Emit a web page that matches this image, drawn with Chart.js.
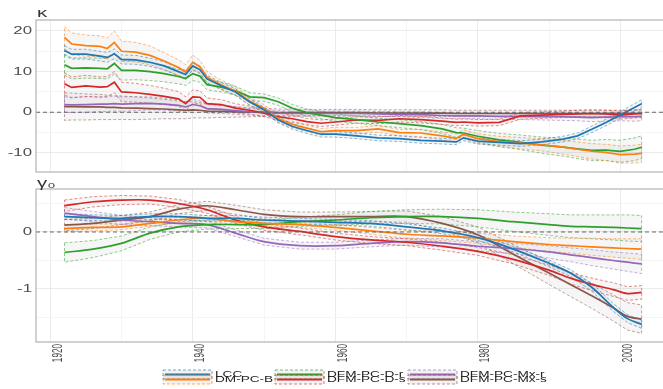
<!DOCTYPE html>
<html>
<head>
<meta charset="utf-8">
<script src="https://cdn.jsdelivr.net/npm/chart.js@4.4.0/dist/chart.umd.min.js"></script>
<style>
  html, body { margin: 0; padding: 0; background: #fff; overflow: hidden; }
  #wrap { position: relative; width: 663px; height: 389px; }
  canvas { position: absolute; left: 0; }
  #kappa { top: 0; }
  #gamma { top: 176px; }
</style>
</head>
<body>
<div id="wrap">
  <canvas id="kappa" width="663" height="176"></canvas>
  <canvas id="gamma" width="663" height="213"></canvas>
</div>
<script>
const seriesNames = ['LCC', 'DM-PC-B', 'DFM-PC-D-r', 'DFM-PC-D-s', 'DFM-PC-Mx-r', 'DFM-PC-Mx-s'];
const seriesColors = ['#1f77b4', '#ff7f0e', '#2ca02c', '#d62728', '#9467bd', '#8c564b'];

// kappa panel
const kappaYears = [1922,1923,1925,1927,1928,1929,1930,1932,1934,1936,1938,1939,1940,1941,1942,1944,1946,1948,1950,1952,1954,1956,1958,1960,1963,1966,1969,1972,1975,1977,1978,1980,1983,1986,1989,1992,1994,1996,1998,2000,2002,2003];
const kappaLCC  = [15.2,14.3,14.3,13.8,13.5,14.4,13.0,12.9,12.3,11.4,10.0,9.3,11.4,10.5,8.2,6.5,5.0,2.5,0.6,-1.9,-3.5,-4.5,-5.4,-5.4,-5.8,-6.3,-6.5,-6.9,-7.1,-7.3,-6.3,-7.1,-7.4,-7.7,-7.3,-6.6,-5.8,-4.2,-2.5,-0.7,1.2,2.1];
const kappaB    = [18.4,16.8,16.4,16.2,15.7,17.2,15.0,14.8,14.0,12.6,11.0,9.9,12.3,11.2,8.6,6.7,5.2,2.7,1.0,-1.6,-3.0,-3.9,-4.8,-4.5,-4.5,-4.1,-5.0,-5.1,-5.8,-6.4,-5.4,-6.5,-7.2,-7.6,-8.0,-8.6,-9.1,-9.6,-9.9,-10.4,-10.3,-10.1];
const kappaDr   = [11.7,10.8,10.9,10.8,10.7,12.0,10.3,10.3,10.0,9.5,8.8,8.3,9.5,8.9,6.8,6.2,5.3,3.8,3.6,2.6,1.0,-0.1,-0.7,-1.3,-1.8,-2.4,-2.8,-3.3,-4.1,-5.0,-5.1,-5.9,-6.8,-7.4,-8.1,-8.6,-9.0,-9.4,-9.3,-9.6,-9.1,-8.6];
const kappaDs   = [7.0,6.1,6.5,6.2,6.3,7.4,5.0,4.8,4.4,3.9,3.3,2.1,3.8,3.7,2.1,1.9,1.0,0.5,-0.2,-1.1,-1.6,-2.3,-2.7,-2.4,-1.9,-2.0,-1.6,-1.8,-2.2,-2.5,-2.4,-2.6,-2.5,-0.9,-0.7,-0.5,-0.4,-0.3,-0.4,-0.7,-0.4,-0.3];
const kappaMxr  = [1.9,1.8,1.9,2.0,2.0,2.1,2.0,2.1,2.2,2.0,1.7,1.3,1.9,1.6,0.9,0.7,0.4,0.1,-0.1,-0.2,-0.3,-0.3,-0.3,-0.3,-0.3,-0.4,-0.5,-0.6,-0.8,-0.9,-0.9,-0.9,-1.0,-1.0,-1.1,-1.1,-1.2,-1.3,-1.2,-1.1,-1.1,-1.0];
const kappaMxs  = [1.4,1.4,1.3,1.3,1.2,1.2,1.1,1.0,0.9,0.8,0.6,0.5,0.6,0.5,0.3,0.2,0.1,0.0,0.0,-0.1,-0.1,-0.1,-0.1,-0.1,-0.1,-0.2,-0.2,-0.2,-0.2,-0.3,-0.3,-0.3,-0.3,-0.3,-0.3,-0.3,-0.3,-0.3,-0.3,-0.3,-0.3,-0.3];
// half widths of the bands
const kappaLCCse = [1.2,1.2,1.2,1.2,1.2,1.2,1.1,1.1,1.0,1.0,1.0,1.0,1.0,0.9,0.9,0.8,0.8,0.8,0.7,0.7,0.7,0.7,0.7,0.7,0.7,0.7,0.7,0.7,0.7,0.7,0.7,0.7,0.7,0.7,0.7,0.7,0.7,0.8,0.8,0.8,0.9,1.0];
const kappaBse   = [2.7,2.7,2.6,2.6,2.6,2.8,2.5,2.4,2.3,2.1,1.9,1.8,1.8,1.6,1.4,1.2,1.1,1.0,0.9,0.9,0.8,0.8,0.8,0.8,0.8,0.8,0.8,0.9,1.0,1.1,1.1,1.2,1.3,1.4,1.5,1.7,1.8,1.9,2.0,2.1,2.2,2.2];
const kappaDrse  = [2.6,2.6,2.5,2.5,2.5,2.6,2.4,2.3,2.2,2.0,1.8,1.7,1.7,1.5,1.3,1.2,1.1,1.0,0.9,0.9,0.9,0.9,0.9,0.9,0.9,0.9,1.0,1.0,1.1,1.2,1.2,1.4,1.6,1.8,2.0,2.2,2.4,2.5,2.6,2.7,2.8,2.8];
const kappaDsse  = [2.7,2.6,2.6,2.5,2.5,2.6,2.4,2.3,2.2,2.0,1.8,1.7,1.7,1.6,1.4,1.2,1.1,1.0,0.9,0.9,0.9,0.8,0.8,0.8,0.8,0.8,0.8,0.8,0.8,0.8,0.8,0.8,0.8,0.8,0.8,0.8,0.9,0.9,0.9,1.0,1.0,1.0];
const kappaMxrse = [1.9,1.9,1.9,1.8,1.8,1.8,1.8,1.7,1.6,1.5,1.4,1.3,1.3,1.2,1.1,1.0,0.9,0.8,0.7,0.6,0.6,0.6,0.6,0.6,0.6,0.6,0.6,0.7,0.7,0.7,0.7,0.7,0.8,0.8,0.8,0.9,0.9,1.0,1.0,1.0,1.1,1.1];
const kappaMxsse = [3.4,3.3,3.2,3.1,3.0,3.0,2.9,2.8,2.6,2.4,2.2,2.1,2.0,1.9,1.7,1.5,1.3,1.1,1.0,0.9,0.9,0.8,0.8,0.8,0.8,0.8,0.8,0.8,0.8,0.8,0.8,0.8,0.8,0.8,0.8,0.8,0.8,0.8,0.8,0.8,0.8,0.8];

// gamma0 panel
const gammaYears = [1922,1926,1930,1934,1938,1942,1946,1950,1955,1960,1965,1970,1975,1980,1985,1990,1993,1996,1999,2001,2003];
const gammaLCC = [0.27,0.25,0.24,0.27,0.27,0.24,0.24,0.21,0.19,0.17,0.15,0.09,0.02,-0.10,-0.30,-0.55,-0.72,-0.97,-1.32,-1.52,-1.62];
const gammaB   = [0.06,0.08,0.09,0.15,0.21,0.24,0.18,0.15,0.13,0.08,0.02,-0.04,-0.07,-0.11,-0.17,-0.22,-0.24,-0.26,-0.28,-0.29,-0.30];
const gammaDr  = [-0.36,-0.30,-0.20,-0.02,0.09,0.13,0.13,0.13,0.18,0.21,0.25,0.27,0.27,0.24,0.18,0.13,0.10,0.09,0.08,0.07,0.06];
const gammaDs  = [0.46,0.53,0.56,0.56,0.50,0.39,0.21,0.09,0.01,-0.08,-0.14,-0.18,-0.25,-0.34,-0.48,-0.67,-0.81,-0.92,-1.01,-1.08,-1.06];
const gammaMxr = [0.33,0.27,0.21,0.18,0.15,0.13,-0.02,-0.17,-0.24,-0.24,-0.20,-0.17,-0.19,-0.25,-0.29,-0.35,-0.40,-0.45,-0.50,-0.53,-0.56];
const gammaMxs = [0.12,0.15,0.21,0.27,0.40,0.46,0.39,0.31,0.27,0.27,0.27,0.27,0.15,-0.05,-0.39,-0.72,-0.92,-1.12,-1.33,-1.48,-1.53];
const gammaLCCse = [0.05,0.05,0.05,0.05,0.05,0.05,0.05,0.05,0.05,0.05,0.05,0.05,0.05,0.05,0.05,0.06,0.06,0.07,0.07,0.07,0.07];
const gammaBse   = [0.06,0.06,0.05,0.05,0.05,0.05,0.05,0.05,0.05,0.05,0.06,0.07,0.08,0.09,0.10,0.12,0.13,0.15,0.16,0.17,0.18];
const gammaDrse  = [0.17,0.15,0.13,0.11,0.09,0.08,0.07,0.07,0.08,0.09,0.11,0.12,0.13,0.15,0.17,0.19,0.20,0.21,0.22,0.23,0.23];
const gammaDsse  = [0.10,0.09,0.08,0.07,0.07,0.06,0.06,0.06,0.06,0.06,0.06,0.06,0.07,0.07,0.08,0.09,0.10,0.11,0.12,0.12,0.12];
const gammaMxrse = [0.10,0.09,0.08,0.07,0.06,0.06,0.06,0.06,0.06,0.06,0.06,0.06,0.07,0.08,0.09,0.11,0.12,0.14,0.15,0.16,0.17];
const gammaMxsse = [0.10,0.09,0.08,0.08,0.08,0.08,0.08,0.08,0.08,0.08,0.09,0.10,0.12,0.14,0.17,0.20,0.21,0.22,0.23,0.24,0.25];

const xTickLabels = [1920, 1940, 1960, 1980, 2000];
const kappaTickLabels = [20, 10, 0, -10];
const gammaTickLabels = [0, -1];

const FONT = '"Liberation Sans", "DejaVu Sans", Arial, sans-serif';

function rgba(hex, a) {
    const n = parseInt(hex.slice(1), 16);
    return `rgba(${n >> 16},${(n >> 8) & 255},${n & 255},${a})`;
}

// closed outline: upper edge forward, lower edge back, then closed
function bandShape(years, mid, se) {
    const up = years.map((x, i) => ({ x, y: mid[i] + se[i] }));
    const lo = years.map((x, i) => ({ x, y: mid[i] - se[i] })).reverse();
    return up.concat(lo, [up[0]]);
}

function buildDatasets(years, mids, ses, tension) {
    const lines = mids.map((mid, k) => ({
        label: seriesNames[k],
        data: years.map((x, i) => ({ x, y: mid[i] })),
        borderColor: seriesColors[k],
        borderWidth: 1.7,
        pointRadius: 0,
        tension: tension,
        fill: false,
        order: 0
    }));
    const bands = mids.map((mid, k) => ({
        label: seriesNames[k] + ' band',
        data: bandShape(years, mid, ses[k]),
        borderColor: rgba(seriesColors[k], 0.6),
        borderWidth: 0.9,
        borderDash: [3, 2],
        backgroundColor: 'rgba(128,128,128,0.07)',
        fill: 'shape',
        pointRadius: 0,
        tension: 0,
        order: 1
    }));
    return lines.concat(bands);
}

function drawText(ctx, text, x, y, o) {
    ctx.save();
    ctx.translate(x, y);
    if (o.rotate) ctx.rotate(o.rotate);
    ctx.scale(o.sx || 1, o.sy || 1);
    ctx.font = o.font;
    ctx.fillStyle = o.color || '#4d4d4d';
    ctx.textAlign = o.align || 'left';
    ctx.textBaseline = o.baseline || 'alphabetic';
    ctx.fillText(text, 0, o.dy || 0);
    ctx.restore();
}

function makeScales(yMin, yMax, yStep, isMajorY, xHeight) {
    return {
        x: {
            type: 'linear', min: 1918, max: 2006,
            border: { display: false },
            ticks: { display: false, stepSize: 10, includeBounds: false },
            grid: {
                drawTicks: false, lineWidth: 1,
                color: c => (c.tick && c.tick.value % 20 === 0) ? '#ebebeb' : '#f5f5f5'
            },
            afterFit: s => { s.height = xHeight; }
        },
        y: {
            type: 'linear', min: yMin, max: yMax,
            border: { display: false },
            ticks: { display: false, stepSize: yStep, includeBounds: false },
            grid: {
                drawTicks: false, lineWidth: 1,
                color: c => (c.tick && isMajorY(c.tick.value)) ? '#ebebeb' : '#f5f5f5'
            },
            afterFit: s => { s.width = 36; }
        }
    };
}

function panelPlugin(yLabels, strip, stripY, extra) {
    return {
        id: 'panelDeco',
        afterDatasetsDraw(chart) {
            const { ctx, chartArea: a, scales } = chart;
            const y0 = scales.y.getPixelForValue(0);
            ctx.save();
            ctx.strokeStyle = '#666';
            ctx.lineWidth = 1;
            ctx.setLineDash([4, 3]);
            ctx.beginPath();
            ctx.moveTo(a.left, y0);
            ctx.lineTo(a.right, y0);
            ctx.stroke();
            ctx.restore();
        },
        afterDraw(chart) {
            const { ctx, chartArea: a, scales } = chart;
            ctx.save();
            ctx.strokeStyle = '#b3b3b3';
            ctx.lineWidth = 1.2;
            ctx.strokeRect(a.left, a.top, a.right - a.left + 2, a.bottom - a.top);
            ctx.restore();

            yLabels.forEach(v => {
                drawText(ctx, String(v), 32, scales.y.getPixelForValue(v), {
                    font: '10.5px ' + FONT, sx: 1.6, align: 'right', baseline: 'middle'
                });
            });
            drawText(ctx, strip, 37, stripY, { font: '12px ' + FONT, sx: 1.7, color: '#333' });
            if (extra) extra(chart);
        }
    };
}

function drawBottomExtras(chart) {
    const { ctx, scales, chartArea: a } = chart;
    // rotated year labels
    xTickLabels.forEach(v => {
        drawText(ctx, String(v), scales.x.getPixelForValue(v), a.bottom + 2, {
            font: '12px ' + FONT, rotate: -Math.PI / 2, sx: 0.68, sy: 1.22,
            align: 'right', baseline: 'alphabetic', dy: 9.4
        });
    });

    // legend: 3 columns, 2 rows, keys squeezed together
    const colX = [163, 275, 408];
    const rowY = [198.5, 203.5];
    seriesNames.forEach((name, i) => {
        const c = Math.floor(i / 2), r = i % 2;
        const x0 = colX[c], cy = rowY[r];
        ctx.save();
        ctx.fillStyle = 'rgba(128,128,128,0.10)';
        ctx.fillRect(x0, cy - 4.5, 49, 9);
        ctx.strokeStyle = rgba(seriesColors[i], 0.7);
        ctx.lineWidth = 0.9;
        ctx.setLineDash([3, 2]);
        ctx.strokeRect(x0, cy - 4.5, 49, 9);
        ctx.setLineDash([]);
        ctx.strokeStyle = seriesColors[i];
        ctx.lineWidth = 2;
        ctx.beginPath();
        ctx.moveTo(x0 + 2, cy);
        ctx.lineTo(x0 + 47, cy);
        ctx.stroke();
        ctx.restore();
        drawText(ctx, name, x0 + 52, cy + 0.5, {
            font: '8.5px ' + FONT, sx: 1.6, baseline: 'middle', color: '#222'
        });
    });
}

const commonOptions = {
    responsive: false,
    animation: false,
    events: [],
    plugins: { legend: { display: false }, tooltip: { enabled: false } }
};

new Chart(document.getElementById('kappa'), {
    type: 'line',
    data: {
        datasets: buildDatasets(kappaYears,
            [kappaLCC, kappaB, kappaDr, kappaDs, kappaMxr, kappaMxs],
            [kappaLCCse, kappaBse, kappaDrse, kappaDsse, kappaMxrse, kappaMxsse], 0)
    },
    options: {
        ...commonOptions,
        layout: { padding: { top: 20, left: 0, right: 0, bottom: 0 } },
        scales: makeScales(-14.7, 22.7, 5, v => v % 10 === 0, 4)
    },
    plugins: [panelPlugin(kappaTickLabels, 'κ', 17)]
});

new Chart(document.getElementById('gamma'), {
    type: 'line',
    data: {
        datasets: buildDatasets(gammaYears,
            [gammaLCC, gammaB, gammaDr, gammaDs, gammaMxr, gammaMxs],
            [gammaLCCse, gammaBse, gammaDrse, gammaDsse, gammaMxrse, gammaMxsse], 0.3)
    },
    options: {
        ...commonOptions,
        layout: { padding: { top: 13, left: 0, right: 0, bottom: 0 } },
        scales: makeScales(-1.93, 0.754, 0.5, v => Math.abs(v - Math.round(v)) < 1e-6, 47)
    },
    plugins: [panelPlugin(gammaTickLabels, 'γ₀', 11, drawBottomExtras)]
});
</script>
</body>
</html>
